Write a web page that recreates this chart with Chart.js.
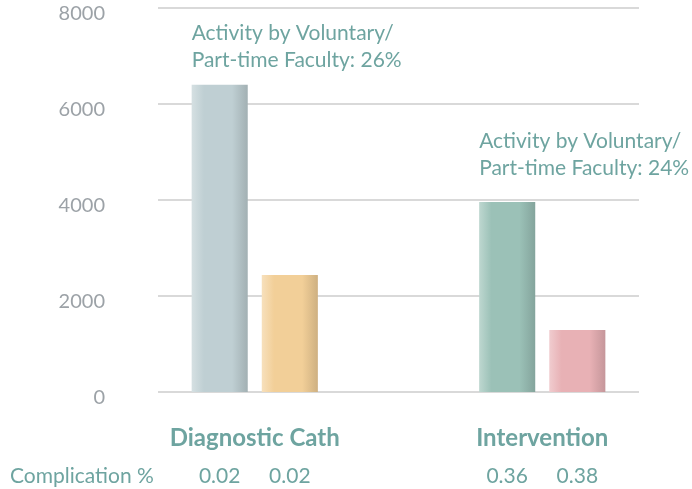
<!DOCTYPE html>
<html>
<head>
<meta charset="utf-8">
<script src="https://cdn.jsdelivr.net/npm/chart.js@4/dist/chart.umd.min.js"></script>
<style>
  html,body{margin:0;padding:0;background:#fff;}
  #wrap{width:692px;height:489px;position:relative;}
</style>
</head>
<body>
<div id="wrap"><canvas id="c" width="692" height="489"></canvas></div>
<script>
// ---- data ----
const categories = ['Diagnostic Cath', 'Intervention'];
const firstBarValues = [6400, 3960];
const secondBarValues = [2440, 1290];
const firstBarComplication = ['0.02', '0.36'];
const secondBarComplication = ['0.02', '0.38'];
const annotations = [
  ['Activity by Voluntary/', 'Part-time Faculty: 26%'],
  ['Activity by Voluntary/', 'Part-time Faculty: 24%']
];
const annotationAnchorValue = [7480, 5230];
const yTicks = [0, 2000, 4000, 6000, 8000];
const complicationLabel = 'Complication %';

// ---- styles ----
const firstBarColors = ['#bfcfd3', '#9bc1b7'];
const secondBarColors = ['#f2cf98', '#e8b1b5'];
const teal = '#6ea4a0';
const gray = '#9ca2a7';
const FONT = 'Lato, "Open Sans", sans-serif';

function mix(hex, target, amt){
  const h = hex.replace('#','');
  const r = parseInt(h.substr(0,2),16), g = parseInt(h.substr(2,2),16), b = parseInt(h.substr(4,2),16);
  const t = target === 'w' ? 255 : 0;
  const f = v => Math.round(v + (t - v) * amt);
  return `rgb(${f(r)},${f(g)},${f(b)})`;
}

const gradientPlugin = {
  id: 'barGradient',
  beforeDatasetsDraw(chart){
    const ctx = chart.ctx;
    chart.data.datasets.forEach((ds, di) => {
      const meta = chart.getDatasetMeta(di);
      meta.data.forEach((el, i) => {
        const base = ds.baseColors[i];
        const l = el.x - el.width/2, r = el.x + el.width/2;
        const g = ctx.createLinearGradient(l, 0, r, 0);
        g.addColorStop(0, mix(base, 'w', 0.35));
        g.addColorStop(0.22, base);
        g.addColorStop(0.72, base);
        g.addColorStop(1, mix(base, 'k', 0.15));
        el.options.backgroundColor = g;
      });
    });
  }
};

const gridPlugin = {
  id: 'customGrid',
  beforeDatasetsDraw(chart){
    const {ctx, chartArea, scales} = chart;
    const x0 = chartArea.left + 47, x1 = chartArea.right - 47;
    ctx.save();
    ctx.strokeStyle = '#d9d9d9';
    ctx.lineWidth = 2;
    yTicks.forEach(v => {
      const y = Math.round(scales.y.getPixelForValue(v));
      ctx.beginPath();
      ctx.moveTo(x0, y);
      ctx.lineTo(x1, y);
      ctx.stroke();
    });
    ctx.restore();
  }
};

const textPlugin = {
  id: 'texts',
  afterDatasetsDraw(chart){
    const {ctx, chartArea, scales} = chart;
    const metaA = chart.getDatasetMeta(0);
    const metaB = chart.getDatasetMeta(1);
    ctx.save();
    ctx.font = '21px ' + FONT;
    ctx.fillStyle = teal;
    ctx.textAlign = 'left';
    ctx.textBaseline = 'middle';
    annotations.forEach((lines, i) => {
      const el = metaA.data[i];
      const x = el.x - el.width/2;
      const y = scales.y.getPixelForValue(annotationAnchorValue[i]);
      lines.forEach((t, k) => ctx.fillText(t, x, y + k*27));
    });
    const rowY = chartArea.bottom + 84;
    ctx.fillText(complicationLabel, 10, rowY);
    ctx.textAlign = 'center';
    firstBarComplication.forEach((t, i) => ctx.fillText(t, metaA.data[i].x, rowY));
    secondBarComplication.forEach((t, i) => ctx.fillText(t, metaB.data[i].x, rowY));
    ctx.restore();
  }
};

new Chart(document.getElementById('c'), {
  type: 'bar',
  data: {
    labels: categories,
    datasets: [
      { data: firstBarValues, baseColors: firstBarColors, backgroundColor: firstBarColors, borderWidth: 0 },
      { data: secondBarValues, baseColors: secondBarColors, backgroundColor: secondBarColors, borderWidth: 0 }
    ]
  },
  options: {
    responsive: false,
    animation: false,
    devicePixelRatio: 1,
    layout: { padding: { top: 8, right: 6, left: 0, bottom: 0 } },
    datasets: { bar: { categoryPercentage: 0.4878, barPercentage: 0.8 } },
    plugins: { legend: { display: false }, tooltip: { enabled: false } },
    scales: {
      x: {
        grid: { display: false, drawTicks: false },
        border: { display: false },
        ticks: {
          padding: 32,
          color: teal,
          font: { family: FONT, size: 24, weight: 'bold' }
        },
        afterFit(scale){ scale.height = 97; scale.paddingLeft = 0; scale.paddingRight = 0; }
      },
      y: {
        min: 0, max: 8000,
        grid: { display: false, drawTicks: false },
        border: { display: false },
        afterBuildTicks(scale){ scale.ticks = yTicks.map(v => ({ value: v })); },
        ticks: {
          padding: 6,
          labelOffset: 6,
          color: gray,
          callback: v => String(v),
          font: { family: FONT, size: 20, weight: 'normal' }
        },
        afterFit(scale){ scale.width = 111; scale.paddingTop = 0; scale.paddingBottom = 0; }
      }
    }
  },
  plugins: [gridPlugin, gradientPlugin, textPlugin]
});
</script>
</body>
</html>
